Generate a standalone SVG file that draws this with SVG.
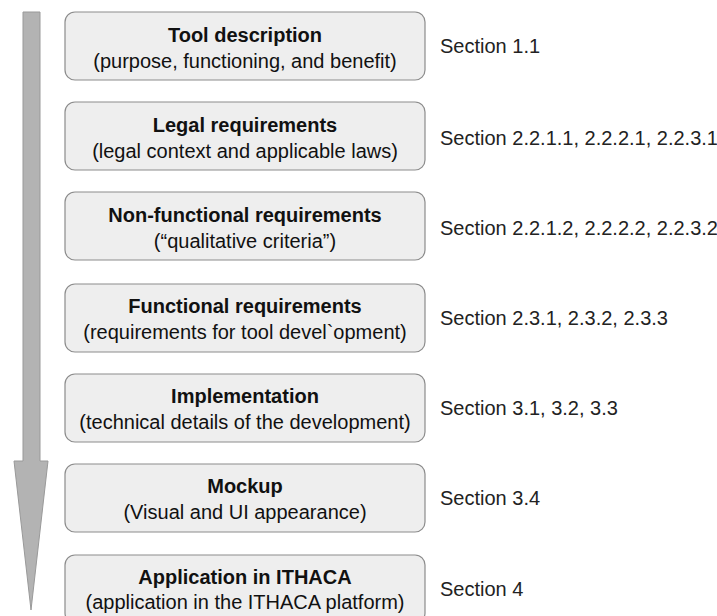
<svg xmlns="http://www.w3.org/2000/svg" width="717" height="616" viewBox="0 0 717 616">
  <style>
    .box { fill: #eeeeee; stroke: #8c8c8c; stroke-width: 1.2; }
    .title { font-family: "Liberation Sans", Arial, sans-serif; font-size: 20px; font-weight: bold; fill: #111; text-anchor: middle; }
    .sub { font-family: "Liberation Sans", Arial, sans-serif; font-size: 20px; fill: #111; text-anchor: middle; }
    .sec { font-family: "Liberation Sans", Arial, sans-serif; font-size: 20px; fill: #222; }
  </style>
  <rect width="717" height="616" fill="#ffffff"/>

  <!-- process direction arrow -->
  <g id="connectors">
    <path d="M23,12 L40,12 L40,461 L48,461 L31,610 L14,461 L23,461 Z" fill="#b3b3b3" stroke="#999999" stroke-width="1"/>
  </g>

  <g id="tool-description">
    <rect class="box" x="65" y="12" width="360" height="68" rx="10"/>
    <text class="title" x="245" y="42">Tool description</text>
    <text class="sub" x="245" y="68">(purpose, functioning, and benefit)</text>
    <text class="sec" x="440" y="53">Section 1.1</text>
  </g>

  <g id="legal-requirements">
    <rect class="box" x="65" y="102" width="360" height="68" rx="10"/>
    <text class="title" x="245" y="132">Legal requirements</text>
    <text class="sub" x="245" y="158">(legal context and applicable laws)</text>
    <text class="sec" x="440" y="145">Section 2.2.1.1, 2.2.2.1, 2.2.3.1</text>
  </g>

  <g id="non-functional-requirements">
    <rect class="box" x="65" y="192" width="360" height="68" rx="10"/>
    <text class="title" x="245" y="222">Non-functional requirements</text>
    <text class="sub" x="245" y="248">(“qualitative criteria”)</text>
    <text class="sec" x="440" y="235">Section 2.2.1.2, 2.2.2.2, 2.2.3.2</text>
  </g>

  <g id="functional-requirements">
    <rect class="box" x="65" y="284" width="360" height="68" rx="10"/>
    <text class="title" x="245" y="313">Functional requirements</text>
    <text class="sub" x="245" y="339">(requirements for tool devel`opment)</text>
    <text class="sec" x="440" y="325">Section 2.3.1, 2.3.2, 2.3.3</text>
  </g>

  <g id="implementation">
    <rect class="box" x="65" y="374" width="360" height="68" rx="10"/>
    <text class="title" x="245" y="403">Implementation</text>
    <text class="sub" x="245" y="429">(technical details of the development)</text>
    <text class="sec" x="440" y="415">Section 3.1, 3.2, 3.3</text>
  </g>

  <g id="mockup">
    <rect class="box" x="65" y="464" width="360" height="68" rx="10"/>
    <text class="title" x="245" y="493">Mockup</text>
    <text class="sub" x="245" y="519">(Visual and UI appearance)</text>
    <text class="sec" x="440" y="505">Section 3.4</text>
  </g>

  <g id="application-ithaca">
    <rect class="box" x="65" y="555" width="360" height="68" rx="10"/>
    <text class="title" x="245" y="584">Application in ITHACA</text>
    <text class="sub" x="245" y="609">(application in the ITHACA platform)</text>
    <text class="sec" x="440" y="596">Section 4</text>
  </g>
</svg>
